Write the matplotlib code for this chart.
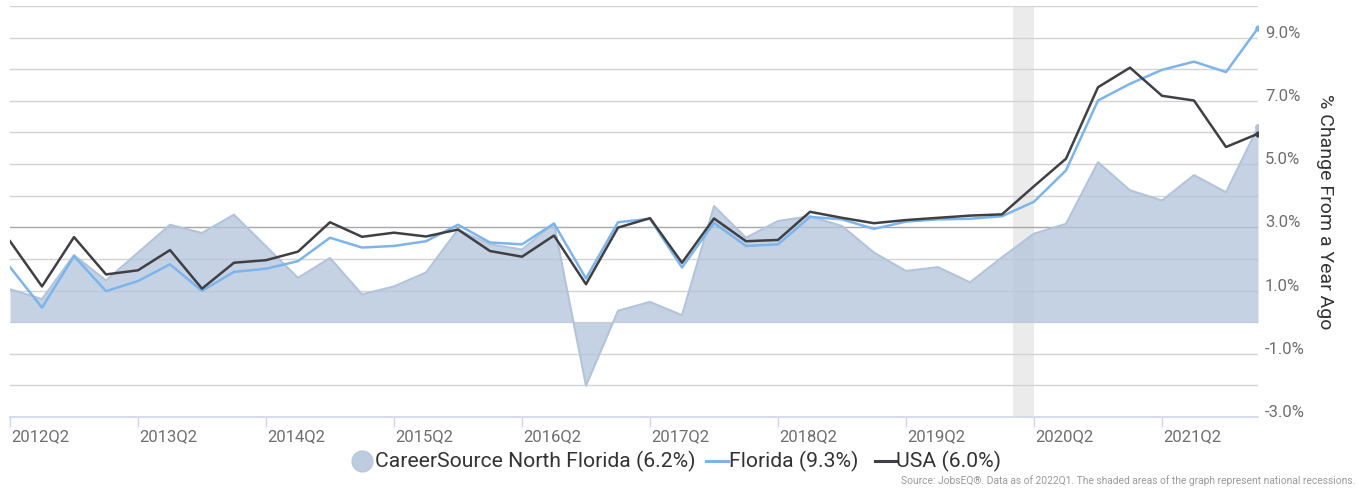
import matplotlib
matplotlib.use("Agg")
import matplotlib.pyplot as plt
from matplotlib.lines import Line2D
from matplotlib.transforms import ScaledTranslation
from matplotlib.ticker import FixedLocator, FuncFormatter

plt.rcParams['font.family'] = ['Roboto', 'DejaVu Sans']

quarters = []
for yr in range(2012, 2023):
    for q in range(1, 5):
        quarters.append(f"{yr}Q{q}")
quarters = quarters[1:41]  # 2012Q2 .. 2022Q1

region = [1.04, 0.73, 2.12, 1.32, 2.20, 3.08, 2.82, 3.40, 2.40, 1.40,
          2.03, 0.88, 1.13, 1.57, 2.93, 2.46, 2.30, 3.12, -2.01, 0.36,
          0.64, 0.22, 3.67, 2.67, 3.20, 3.35, 3.04, 2.20, 1.62, 1.74,
          1.26, 2.05, 2.80, 3.11, 5.06, 4.17, 3.85, 4.65, 4.11, 6.17]
florida = [1.74, 0.46, 2.09, 0.98, 1.30, 1.83, 0.99, 1.59, 1.69, 1.93,
           2.67, 2.36, 2.41, 2.56, 3.08, 2.52, 2.46, 3.12, 1.38, 3.16,
           3.27, 1.73, 3.14, 2.41, 2.46, 3.33, 3.25, 2.95, 3.18, 3.25,
           3.27, 3.35, 3.81, 4.80, 7.01, 7.54, 7.98, 8.24, 7.91, 9.30]
usa = [2.56, 1.13, 2.69, 1.51, 1.64, 2.28, 1.06, 1.88, 1.96, 2.23,
       3.16, 2.70, 2.83, 2.71, 2.93, 2.25, 2.07, 2.74, 1.20, 2.99,
       3.29, 1.88, 3.28, 2.56, 2.60, 3.49, 3.30, 3.13, 3.23, 3.30,
       3.37, 3.41, 4.30, 5.17, 7.43, 8.05, 7.16, 7.01, 5.54, 5.96]
series_names = ["CareerSource North Florida (6.2%)", "Florida (9.3%)", "USA (6.0%)"]
recession = (31.333, 32.0)  # Feb 2020 - Apr 2020 in quarter index units
ytick_vals = list(range(-3, 11))
ylabels_shown = [9, 7, 5, 3, 1, -1, -3]

W, H = 1358, 488
fig = plt.figure(figsize=(W / 100, H / 100), dpi=100)
ax = fig.add_axes([10 / W, 71 / H, 1248 / W, 411 / H])

x = list(range(len(quarters)))
area_col = '#b2c4da'
fl_col = '#7cb5ec'
us_col = '#404044'

ax.axvspan(recession[0], recession[1], color='#ebebeb', zorder=0.5, lw=0)
ax.fill_between(x, region, 0, color=area_col, alpha=0.75, lw=0, zorder=2)
ax.plot(x, region, color=area_col, lw=1.5, zorder=2.1,
        marker='o', markevery=[len(x) - 1], ms=4)
ax.plot(x, florida, color=fl_col, lw=1.8, zorder=3,
        marker='o', markevery=[len(x) - 1], ms=3.5)
ax.plot(x, usa, color=us_col, lw=1.8, zorder=4,
        marker='o', markevery=[len(x) - 1], ms=3.5)

ax.set_xlim(0, len(x) - 1)
ax.set_ylim(-3, 10)

# grid
for v in ytick_vals:
    if v == -3:
        continue
    c = '#a8a8a8' if v == 3 else '#d3d3d3'
    ax.axhline(v, color=c, lw=1, zorder=1)

for s in ['top', 'left', 'right']:
    ax.spines[s].set_visible(False)
ax.spines['bottom'].set_color('#ccd6eb')
ax.spines['bottom'].set_linewidth(1.2)
ax.spines['bottom'].set_zorder(5)

# x ticks
xt = [i for i in x if quarters[i].endswith('Q2')]
ax.set_xticks(xt)
ax.set_xticklabels([quarters[i] for i in xt])
ax.tick_params(axis='x', direction='out', length=7, width=1, color='#ccd6eb',
               labelsize=12, labelcolor='#6e6e6e', pad=2)
off_x = ScaledTranslation(1 / 100, 0, fig.dpi_scale_trans)
for lab in ax.get_xticklabels():
    lab.set_horizontalalignment('left')
    lab.set_transform(lab.get_transform() + off_x)

# y ticks on right
ax.yaxis.tick_right()
ax.yaxis.set_major_locator(FixedLocator(ytick_vals))
ax.yaxis.set_major_formatter(FuncFormatter(
    lambda v, p: f"{v:.1f}%" if round(v) in ylabels_shown else ""))
ax.tick_params(axis='y', length=0, pad=5, labelsize=12, labelcolor='#6e6e6e')
off_y = ScaledTranslation(0, 6 / 100, fig.dpi_scale_trans)
for lab in ax.get_yticklabels():
    lab.set_transform(lab.get_transform() + off_y)

ax.yaxis.set_label_position('right')
ax.set_ylabel("% Change From a Year Ago", rotation=270, fontsize=14,
              color='#333333', va='center')
ax.yaxis.set_label_coords((1325 - 10) / 1248, 0.5)

# legend (manual)
def fx(px):
    return px / W

def fy(py):
    return 1 - py / H

ly = 461
fig.add_artist(Line2D([fx(362)], [fy(ly)], marker='o', ms=15, color=area_col,
                      alpha=0.85, lw=0, transform=fig.transFigure))
fig.text(fx(375), fy(ly), series_names[0], fontsize=15.2, color='#333333',
         va='center', ha='left')
fig.add_artist(Line2D([fx(706), fx(728)], [fy(ly), fy(ly)], color=fl_col, lw=2.2,
                      transform=fig.transFigure))
fig.text(fx(729), fy(ly), series_names[1], fontsize=15.2, color='#333333',
         va='center', ha='left')
fig.add_artist(Line2D([fx(875), fx(896)], [fy(ly), fy(ly)], color=us_col, lw=2.2,
                      transform=fig.transFigure))
fig.text(fx(896), fy(ly), series_names[2], fontsize=15.2, color='#333333',
         va='center', ha='left')

fig.text(fx(1355), fy(481),
         "Source: JobsEQ®. Data as of 2022Q1. The shaded areas of the graph represent national recessions.",
         fontsize=7.4, color='#9a9a9a', ha='right', va='center')

fig.savefig("out.png", dpi=100)
